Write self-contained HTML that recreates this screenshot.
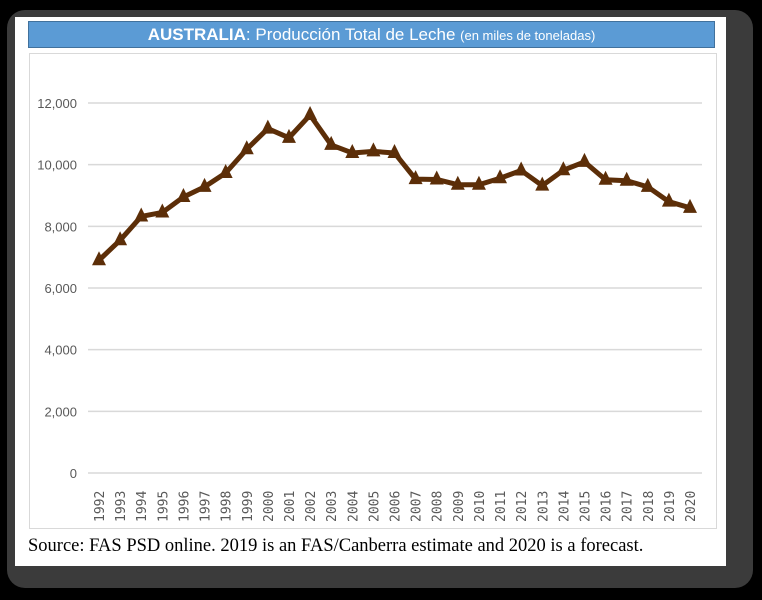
<!DOCTYPE html>
<html><head><meta charset="utf-8"><style>
body{margin:0;width:762px;height:600px;background:#000;overflow:hidden;font-family:"Liberation Sans",sans-serif}
#frame{position:absolute;left:7px;top:10px;width:746px;height:578px;background:#3b3b3b;border-radius:18px}
#card{position:absolute;left:15px;top:17px;width:711px;height:549px;background:#fff}
#title{position:absolute;left:28px;top:21px;width:687px;height:27px;background:#5b9bd5;border:1px solid #41719c;box-sizing:border-box;color:#fff;text-align:center;font-size:17px;line-height:25px}
#src{position:absolute;left:28px;top:536px;font-family:"Liberation Serif",serif;font-size:18.5px;color:#000;white-space:nowrap}
</style></head><body>
<div id="frame"></div>
<div id="card"></div>
<div id="title"><b>AUSTRALIA</b>: Producción Total de Leche <span style="font-size:13px">(en miles de toneladas)</span></div>
<svg id="chart" width="762" height="600" style="position:absolute;left:0;top:0">
<rect x="29.5" y="53.5" width="687" height="475" fill="#fff" stroke="#d9d9d9"/>
<g id="grid"></g><g id="ylab"></g><g id="xlab"></g><g id="series"></g>
</svg>
<div id="src">Source: FAS PSD online. 2019 is an FAS/Canberra estimate and 2020 is a forecast.</div>
<script>
const years=[1992,1993,1994,1995,1996,1997,1998,1999,2000,2001,2002,2003,2004,2005,2006,2007,2008,2009,2010,2011,2012,2013,2014,2015,2016,2017,2018,2019,2020];
const production=[6900,7550,8320,8450,8950,9280,9730,10500,11170,10870,11610,10640,10380,10430,10380,9530,9520,9350,9350,9560,9810,9320,9820,10090,9510,9480,9280,8800,8600];
const yTicks=[0,2000,4000,6000,8000,10000,12000];
const NS="http://www.w3.org/2000/svg";
const x=i=>99+i*(690-99)/(years.length-1);
const y=v=>473-v*(473-103)/12000;
function mk(t,a,p){const e=document.createElementNS(NS,t);for(const k in a)e.setAttribute(k,a[k]);p.appendChild(e);return e;}
const grid=document.getElementById('grid'),yl=document.getElementById('ylab'),xl=document.getElementById('xlab'),sr=document.getElementById('series');
yTicks.forEach(t=>{
 const l=mk('line',{x1:88,x2:702,y1:y(t),y2:y(t),stroke:'#d9d9d9','stroke-width':1.5},grid);
 
 
 const tx=mk('text',{x:77,y:y(t)+5,'text-anchor':'end','font-size':13,fill:'#595959'},yl);
 tx.textContent=t.toLocaleString('en-US');
 
 
});
years.forEach((yr,i)=>{
 const tx=mk('text',{transform:`translate(${x(i)+5},522) rotate(-90)`,'font-size':13,fill:'#595959','font-family':'DejaVu Sans Mono, monospace'},xl);
 tx.textContent=yr;
 
 
});
const pts=production.map((v,i)=>x(i)+','+y(v)).join(' ');
const pl=mk('polyline',{points:pts,fill:'none',stroke:'#5c2e08','stroke-width':5,'stroke-linejoin':'round'},sr);


production.forEach((v,i)=>{
 const cx=x(i),cy=y(v);
 const m=mk('polygon',{points:`${cx},${cy-9} ${cx-7},${cy+5} ${cx+7},${cy+5}`,fill:'#5c2e08'},sr);
 
 
});
</script>
</body></html>
